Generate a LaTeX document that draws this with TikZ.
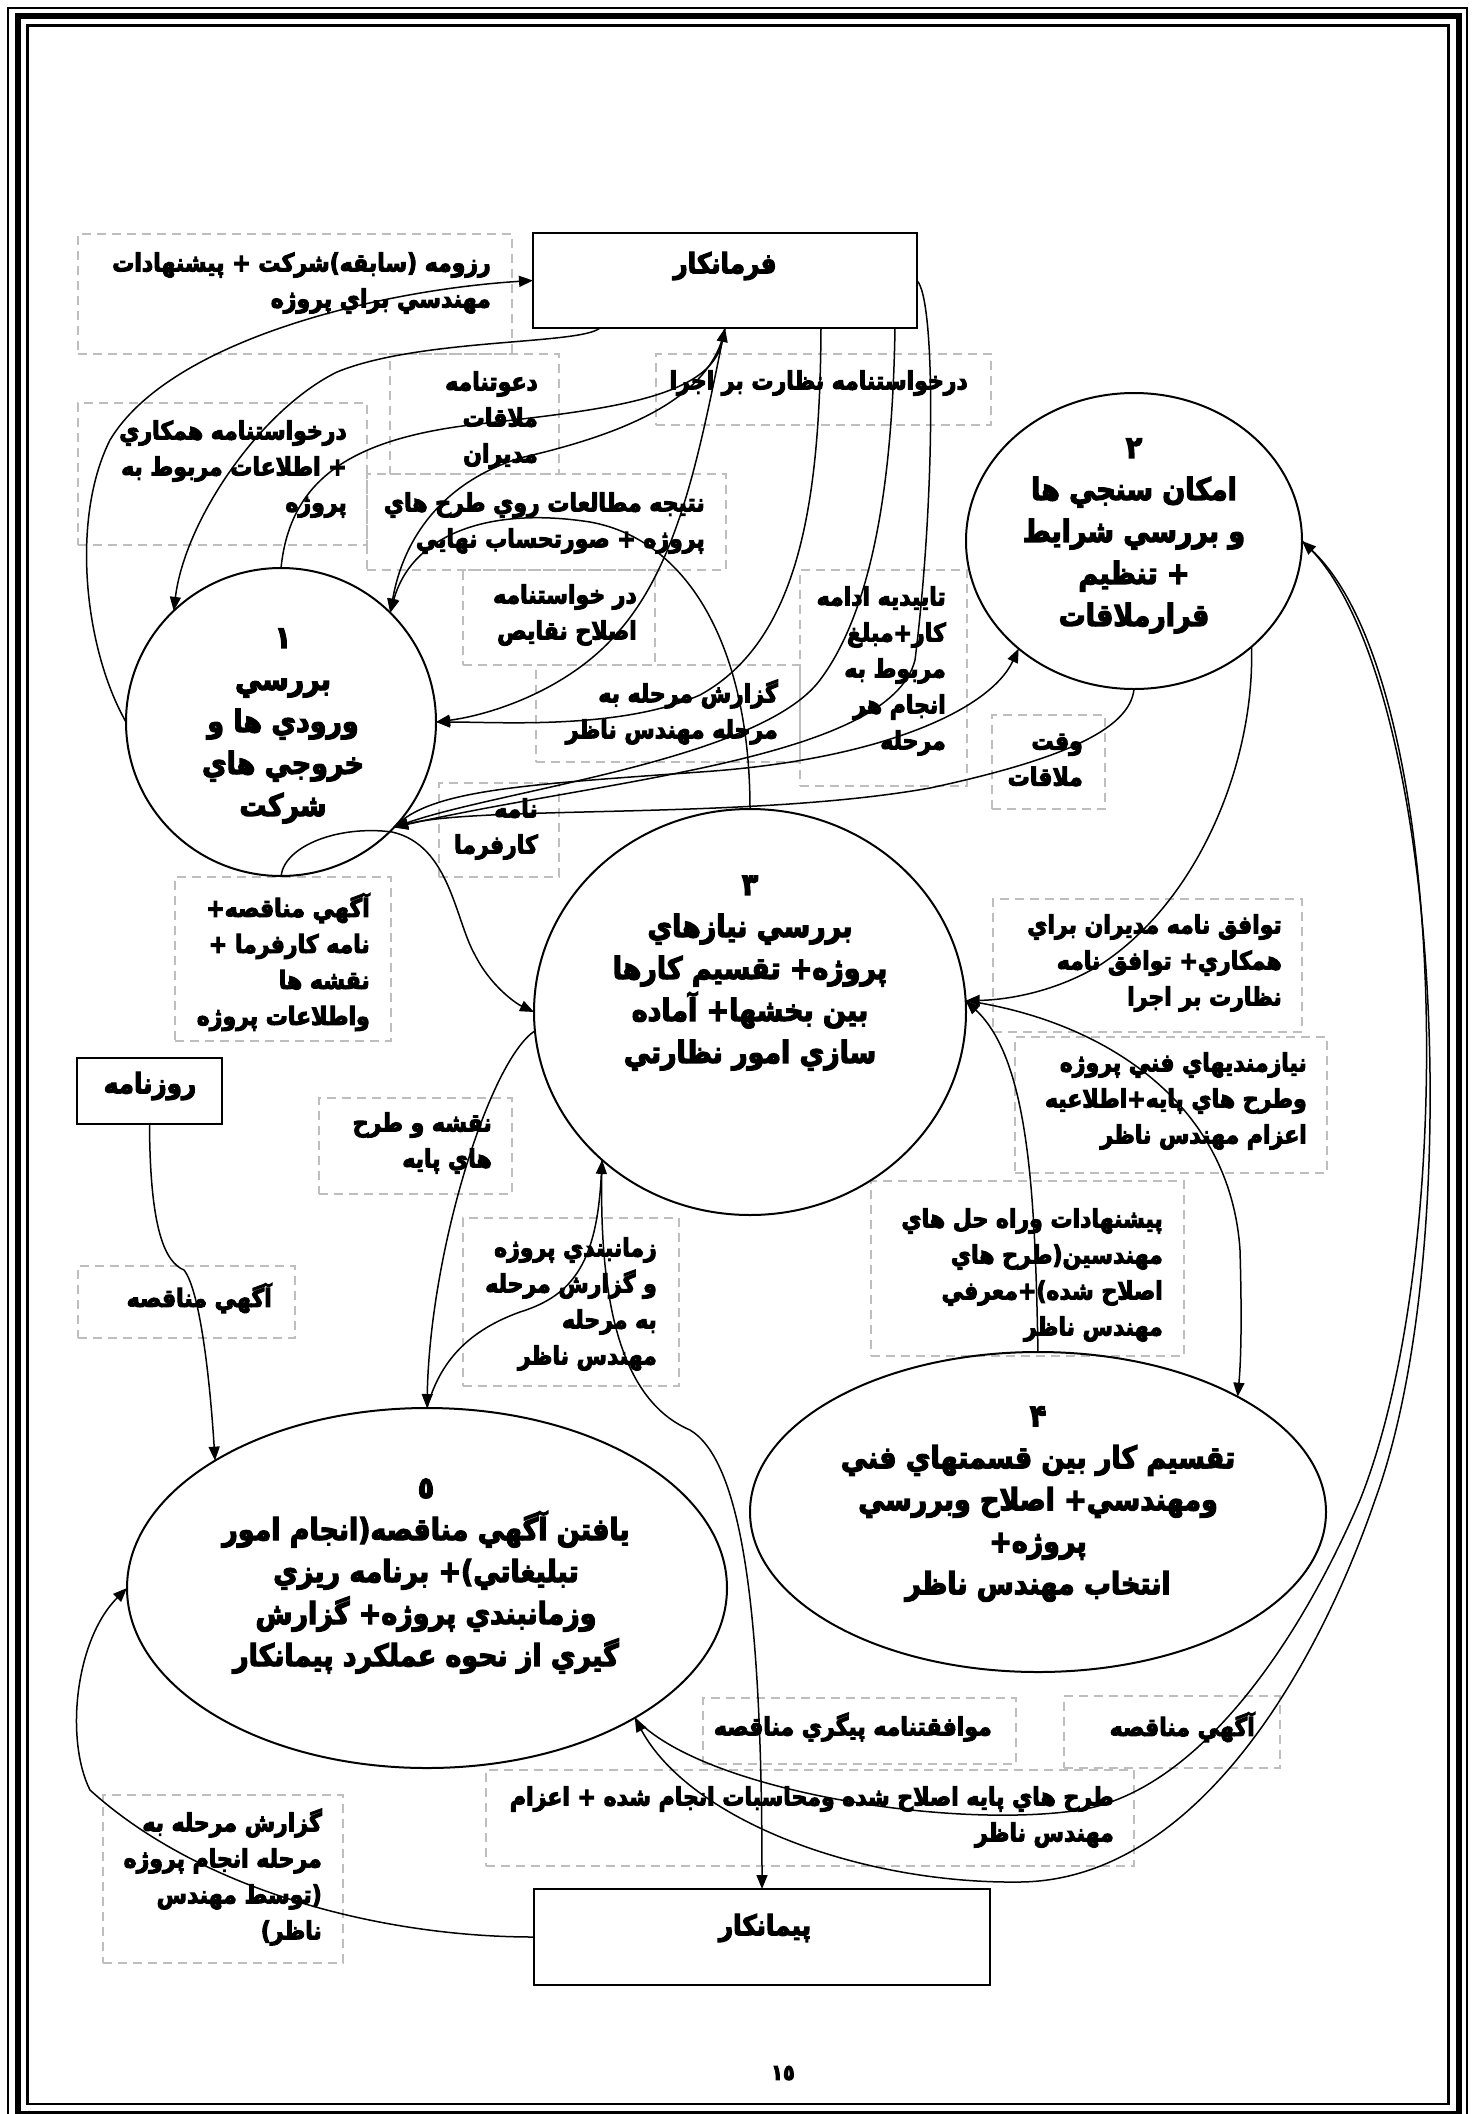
\documentclass[tikz,border=0pt]{standalone}
\usepackage{fontspec}
\usetikzlibrary{shapes.geometric,arrows.meta}
\TeXXeTstate=1
\newfontfamily\fa[Script=Arabic, FakeStretch=0.88, BoldFeatures={FakeBold=4}]{DejaVu Sans}
\newcommand{\rl}[1]{\beginR #1\endR}
\definecolor{boxgray}{RGB}{190,190,190}
\begin{document}
\begin{tikzpicture}[x=1pt,y=-1pt,
  proc/.style={draw, ellipse, line width=2pt, inner sep=0pt, outer sep=0pt},
  pbox/.style={draw, rectangle, line width=2.4pt, inner sep=0pt, outer sep=0pt, anchor=north west},
  dbox/.style={draw=boxgray, rectangle, dash pattern=on 9pt off 6pt, line width=1.6pt, inner sep=0pt, anchor=north west},
  lbl/.style={font=\fa\bfseries\fontsize{25}{36}\selectfont, align=right, inner sep=0pt, anchor=east},
  ptxt/.style={font=\fa\bfseries\fontsize{30.5}{42}\selectfont, align=center, inner sep=0pt},
  rtxt/.style={font=\fa\bfseries\fontsize{28}{30}\selectfont, inner sep=0pt},
  con/.style={line width=1.5pt},
  arr/.style={con, -{Triangle[length=14pt,width=11pt]}}]
\useasboundingbox (0,0) rectangle (1479,2114);
\fill[white] (0,0) rectangle (1479,2114);
% frame
\draw[line width=2pt] (8.3,7.7) rectangle (1467.3,2124);
\draw[line width=5.7pt] (17.8,16.2) rectangle (1459,2113.5);
\draw[line width=2.6pt] (27.3,25.3) rectangle (1448.7,2104);

% dashed label boxes
\node[dbox, minimum width=434pt, minimum height=120pt] (b1) at (77,233) {};
\node[dbox, minimum width=169pt, minimum height=120pt] (b2) at (389,353) {};
\node[dbox, minimum width=335pt, minimum height=71pt] (b3) at (655,353) {};
\node[dbox, minimum width=289pt, minimum height=142pt] (b4) at (77,402) {};
\node[dbox, minimum width=359pt, minimum height=96pt] (b5) at (366,473) {};
\node[dbox, minimum width=192pt, minimum height=95pt] (b6) at (462,569) {};
\node[dbox, minimum width=167pt, minimum height=216pt] (b7) at (799,569) {};
\node[dbox, minimum width=264pt, minimum height=97pt] (b8) at (535,664) {};
\node[dbox, minimum width=113pt, minimum height=94pt] (b9) at (991,714) {};
\node[dbox, minimum width=120pt, minimum height=94pt] (b10) at (438,782) {};
\node[dbox, minimum width=216pt, minimum height=164pt] (b11) at (174,876) {};
\node[dbox, minimum width=309pt, minimum height=133pt] (b12) at (992,898) {};
\node[dbox, minimum width=312pt, minimum height=136pt] (b13) at (1014,1036) {};
\node[dbox, minimum width=193pt, minimum height=96pt] (b14) at (318,1097) {};
\node[dbox, minimum width=216pt, minimum height=168pt] (b15) at (462,1217) {};
\node[dbox, minimum width=313pt, minimum height=175pt] (b16) at (870,1180) {};
\node[dbox, minimum width=217pt, minimum height=72pt] (b17) at (77,1265) {};
\node[dbox, minimum width=313pt, minimum height=66pt] (b18) at (702,1697) {};
\node[dbox, minimum width=216pt, minimum height=72pt] (b19) at (1063,1695) {};
\node[dbox, minimum width=648pt, minimum height=96pt] (b20) at (485,1769) {};
\node[dbox, minimum width=240pt, minimum height=168pt] (b21) at (102,1794) {};

% label texts
\node[lbl] (l1) at (491,283) {\rl{رزومه (سابقه)شركت + پيشنهادات}\\\rl{مهندسي براي پروژه}};
\node[lbl] (l2) at (538,420) {\rl{دعوتنامه}\\\rl{ملاقات}\\\rl{مديران}};
\node[lbl] (l3) at (968,383) {\rl{درخواستنامه نظارت بر اجرا}};
\node[lbl] (l4) at (347,469) {\rl{درخواستنامه همكاري}\\\rl{+ اطلاعات مربوط به}\\\rl{پروژه}};
\node[lbl] (l5) at (705,523) {\rl{نتيجه مطالعات روي طرح هاي}\\\rl{پروژه + صورتحساب نهايي}};
\node[lbl] (l6) at (637,615) {\rl{در خواستنامه}\\\rl{اصلاح نقايص}};
\node[lbl] (l7) at (946,671) {\rl{تاييديه ادامه}\\\rl{كار+مبلغ}\\\rl{مربوط به}\\\rl{انجام هر}\\\rl{مرحله}};
\node[lbl] (l8) at (778,712) {\rl{گزارش مرحله به}\\\rl{مرحله مهندس ناظر}};
\node[lbl] (l9) at (1083,760) {\rl{وقت}\\\rl{ملاقات}};
\node[lbl] (l10) at (538,829) {\rl{نامه}\\\rl{كارفرما}};
\node[lbl] (l11) at (370,962) {\rl{آگهي مناقصه+}\\\rl{نامه كارفرما +}\\\rl{نقشه ها}\\\rl{واطلاعات پروژه}};
\node[lbl] (l12) at (1282,963) {\rl{توافق نامه مديران براي}\\\rl{همكاري+ توافق نامه}\\\rl{نظارت بر اجرا}};
\node[lbl] (l13) at (1307,1101) {\rl{نيازمنديهاي فني پروژه}\\\rl{وطرح هاي پايه+اطلاعيه}\\\rl{اعزام مهندس ناظر}};
\node[lbl] (l14) at (492,1143) {\rl{نقشه و طرح}\\\rl{هاي پايه}};
\node[lbl] (l15) at (657,1304) {\rl{زمانبندي پروژه}\\\rl{و گزارش مرحله}\\\rl{به مرحله}\\\rl{مهندس ناظر}};
\node[lbl] (l16) at (1163,1275) {\rl{پيشنهادات وراه حل هاي}\\\rl{مهندسين(طرح هاي}\\\rl{اصلاح شده)+معرفي}\\\rl{مهندس ناظر}};
\node[lbl] (l17) at (272,1298) {\rl{آگهي مناقصه}};
\node[lbl] (l18) at (992,1727) {\rl{موافقتنامه پيگري مناقصه}};
\node[lbl] (l19) at (1255,1727) {\rl{آگهي مناقصه}};
\node[lbl] (l20) at (1114,1817) {\rl{طرح هاي پايه اصلاح شده ومحاسبات انجام شده + اعزام}\\\rl{مهندس ناظر}};
\node[lbl] (l21) at (322,1877) {\rl{گزارش مرحله به}\\\rl{مرحله انجام پروژه}\\\rl{(توسط مهندس}\\\rl{ناظر)}};

% external entities
\node[pbox, minimum width=384pt, minimum height=95pt] (f) at (533,233) {};
\node[rtxt] (ft) at (725,266) {\rl{فرمانكار}};
\node[pbox, minimum width=145pt, minimum height=66pt] (rz) at (77,1058) {};
\node[rtxt] (rzt) at (150,1086) {\rl{روزنامه}};
\node[pbox, minimum width=456pt, minimum height=96pt] (pm) at (534,1889) {};
\node[rtxt] (pmt) at (765,1928) {\rl{پيمانكار}};

% processes
\node[proc, minimum width=310pt, minimum height=308pt] (c1) at (281,722) {};
\node[proc, minimum width=336pt, minimum height=296pt] (c2) at (1134,541) {};
\node[proc, minimum width=432pt, minimum height=406pt] (c3) at (750,1012) {};
\node[proc, minimum width=576pt, minimum height=320pt] (c4) at (1038,1512) {};
\node[proc, minimum width=600pt, minimum height=360pt] (c5) at (427,1588) {};

\node[ptxt] (t1) at (283,726) {\rl{١}\\\rl{بررسي}\\\rl{ورودي ها و}\\\rl{خروجي هاي}\\\rl{شركت}};
\node[ptxt] (t2) at (1134,536) {\rl{٢}\\\rl{امكان سنجي ها}\\\rl{و بررسي شرايط}\\\rl{+ تنظيم}\\\rl{قرارملاقات}};
\node[ptxt] (t3) at (750,973) {\rl{٣}\\\rl{بررسي نيازهاي}\\\rl{پروژه+ تقسيم كارها}\\\rl{بين بخشها+ آماده}\\\rl{سازي امور نظارتي}};
\node[ptxt] (t4) at (1038,1504) {\rl{۴}\\\rl{تقسيم كار بين قسمتهاي فني}\\\rl{ومهندسي+ اصلاح وبررسي}\\\rl{پروژه+}\\\rl{انتخاب مهندس ناظر}};
\node[ptxt] (t5) at (426,1576) {\rl{٥}\\\rl{يافتن آگهي مناقصه(انجام امور}\\\rl{تبليغاتي)+ برنامه ريزي}\\\rl{وزمانبندي پروژه+ گزارش}\\\rl{گيري از نحوه عملكرد پيمانكار}};

\node[rtxt, font=\fa\bfseries\fontsize{22}{24}\selectfont] (pg) at (783,2073) {\rl{١٥}};

% connectors
\draw[arr] (c1.west) .. controls (85,650) and (70,520) .. (110,440) .. controls (170,340) and (380,290) .. (f.west);
\draw[arr] ([xshift=-125pt]f.south) .. controls (580,345) and (420,338) .. (337,372) .. controls (260,410) and (185,520) .. (c1.134);
\draw[arr] (c1.north) .. controls (290,480) and (350,440) .. (470,425) .. controls (600,410) and (710,400) .. (f.south);
\draw[arr] (f.south) .. controls (712,400) and (620,435) .. (520,458) .. controls (450,480) and (405,530) .. (c1.45);
\draw[arr] (f.south) .. controls (700,450) and (680,560) .. (620,630) .. controls (570,690) and (490,715) .. (c1.east);
\draw[arr] (c3.north) .. controls (750,650) and (690,540) .. (590,522) .. controls (480,505) and (410,540) .. (c1.45);
\draw[arr] (c1.-43) .. controls (430,790) and (520,785) .. (700,772) .. controls (880,760) and (990,710) .. (c2.-137);
\draw[arr] (c2.south) .. controls (1130,730) and (1060,760) .. (930,788) .. controls (750,820) and (480,805) .. (c1.-43);
\draw[arr] ([xshift=170pt]f.south) .. controls (893,450) and (880,600) .. (820,680) .. controls (760,760) and (500,790) .. (c1.-43);
\draw[arr] (f.east) .. controls (936,300) and (935,500) .. (915,660) .. controls (890,760) and (600,780) .. (c1.-43);
\draw[arr] ([xshift=96pt]f.south) .. controls (820,500) and (800,640) .. (700,695) .. controls (620,730) and (500,722) .. (c1.east);
\draw[arr] (c1.south) .. controls (285,845) and (340,825) .. (392,832) .. controls (450,845) and (455,920) .. (475,955) .. controls (490,985) and (515,1003) .. (c3.west);
\draw[arr] (c3.185) .. controls (490,1060) and (430,1250) .. (c5.north);
\draw[arr] (c5.north) .. controls (440,1360) and (470,1330) .. (520,1312) .. controls (575,1295) and (597,1260) .. (c3.-135);
\draw[arr] (c3.-135) .. controls (598,1300) and (620,1400) .. (690,1430) .. controls (740,1460) and (762,1600) .. (pm.north);
\draw[arr] (rz.south) .. controls (150,1230) and (165,1262) .. (184,1270) .. controls (200,1290) and (210,1380) .. (c5.149);
\draw[arr] (pm.west) .. controls (380,1937) and (200,1890) .. (90,1790) .. controls (65,1740) and (75,1640) .. (c5.west);
\draw[arr] (c5.-32) .. controls (700,1790) and (950,1830) .. (1080,1810) .. controls (1200,1790) and (1300,1640) .. (1360,1500) .. controls (1460,1250) and (1450,680) .. (c2.east);
\draw[arr] (c2.east) .. controls (1440,660) and (1470,1240) .. (1375,1500) .. controls (1320,1660) and (1200,1880) .. (1020,1882) .. controls (860,1884) and (690,1820) .. (c5.-32);
\draw[arr] (c2.-42) .. controls (1255,760) and (1200,900) .. (1100,965) .. controls (1050,995) and (1000,1000) .. (c3.3);
\draw[arr] (c4.north) .. controls (1035,1200) and (1030,1060) .. (c3.3);
\draw[arr] (c3.3) .. controls (1100,1020) and (1230,1100) .. (1240,1250) .. controls (1242,1320) and (1241,1360) .. (c4.30);
\end{tikzpicture}
\end{document}
